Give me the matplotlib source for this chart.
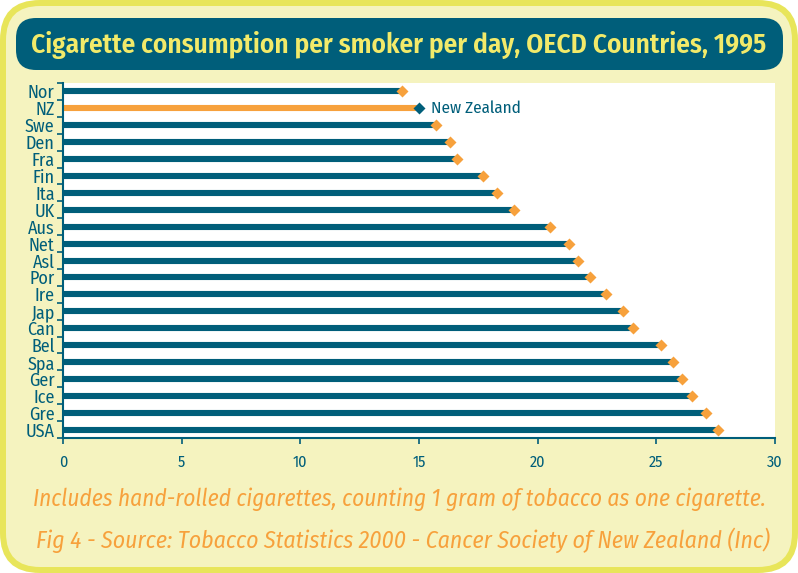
import matplotlib
matplotlib.use('Agg')
import matplotlib.pyplot as plt
import numpy as np
from matplotlib.patches import FancyBboxPatch

# data (cigarettes per smoker per day, 1995)
countries = ['Nor', 'NZ', 'Swe', 'Den', 'Fra', 'Fin', 'Ita', 'UK', 'Aus', 'Net', 'Asl',
             'Por', 'Ire', 'Jap', 'Can', 'Bel', 'Spa', 'Ger', 'Ice', 'Gre', 'USA']
cigs = [14.3, 15.0, 15.7, 16.3, 16.6, 17.7, 18.3, 19.0, 20.5, 21.3, 21.7,
        22.2, 22.9, 23.6, 24.0, 25.2, 25.7, 26.1, 26.5, 27.1, 27.6]
x_ticks = [0, 5, 10, 15, 20, 25, 30]
highlight = 'NZ'
highlight_label = 'New Zealand'

title = 'Cigarette consumption per smoker per day, OECD Countries, 1995'
note1 = 'Includes hand-rolled cigarettes, counting 1 gram of tobacco as one cigarette.'
note2 = 'Fig 4 - Source: Tobacco Statistics 2000 - Cancer Society of New Zealand (Inc)'

teal = '#005e7a'
orange = '#f7a13c'
cream = '#f5f3bf'
yellow = '#e8e55a'
title_yellow = '#f2ea6a'

plt.rcParams['font.family'] = ['Fira Sans Condensed', 'DejaVu Sans']

fig = plt.figure(figsize=(7.98, 5.73), dpi=100, facecolor='white')

# rounded frame
fig.patches.append(FancyBboxPatch((0.0, 0.0), 7.98, 5.73,
                                  boxstyle='round,pad=0,rounding_size=0.4',
                                  transform=fig.dpi_scale_trans, fc=yellow, ec='none', zorder=-3))
fig.patches.append(FancyBboxPatch((0.06, 0.06), 7.86, 5.61,
                                  boxstyle='round,pad=0,rounding_size=0.34',
                                  transform=fig.dpi_scale_trans, fc=cream, ec='none', zorder=-2))
# title box
fig.patches.append(FancyBboxPatch((0.16, 5.03), 7.67, 0.52,
                                  boxstyle='round,pad=0,rounding_size=0.2',
                                  transform=fig.dpi_scale_trans, fc=teal, ec='none', zorder=-1))
t_title = fig.text(0.5, 0.921, title, ha='center', va='center', color=title_yellow,
                   fontsize=20, fontweight='semibold')

ax = fig.add_axes([63 / 798, 1 - 438 / 573, 712 / 798, 355 / 573])
ax.set_zorder(2)
ax.set_facecolor('white')

y = np.arange(len(countries))
bar_colors = [orange if c == highlight else teal for c in countries]
mark_colors = [teal if c == highlight else orange for c in countries]
ax.hlines(y, 0, cigs, colors=bar_colors, lw=4.4, zorder=2)
for yi, v, mc in zip(y, cigs, mark_colors):
    ax.plot(v, yi, 'D', ms=6.5, color=mc, mec='none', zorder=3)

hi = countries.index(highlight)
ax.text(cigs[hi] + 0.5, hi, highlight_label, color=teal, fontsize=12.3, va='center')

ax.set_xlim(0, 30)
ax.set_ylim(len(countries) - 0.5, -0.5)
ax.set_xticks(x_ticks)
ax.set_xticklabels([str(t) for t in x_ticks])
ax.set_yticks(y)
ax.set_yticklabels(countries)
ax.set_yticks(np.arange(-0.5, len(countries)), minor=True)
ax.tick_params(axis='y', which='major', length=0, pad=6, labelsize=13, labelcolor=teal)
ax.tick_params(axis='y', which='minor', length=4, color=teal, width=1.2)
ax.tick_params(axis='x', length=4, color=teal, width=1.2, pad=8, labelsize=11.5, labelcolor=teal)

for s in ['top', 'right']:
    ax.spines[s].set_visible(False)
for s in ['left', 'bottom']:
    ax.spines[s].set_color(teal)
    ax.spines[s].set_linewidth(1.5)

t1 = fig.text(0.5, 0.129, note1, ha='center', va='center', color=orange,
              fontsize=15, style='italic')
t2 = fig.text(0.505, 0.0576, note2, ha='center', va='center', color=orange,
              fontsize=15, style='italic')

# fit the long texts to the widths they take in the original
r = fig.canvas.get_renderer()
for t, w in [(t_title, 735), (t1, 732), (t2, 733)]:
    cur = t.get_window_extent(r).width
    t.set_fontsize(t.get_fontsize() * w / cur)

fig.savefig('out.png', dpi=100, facecolor='white')
